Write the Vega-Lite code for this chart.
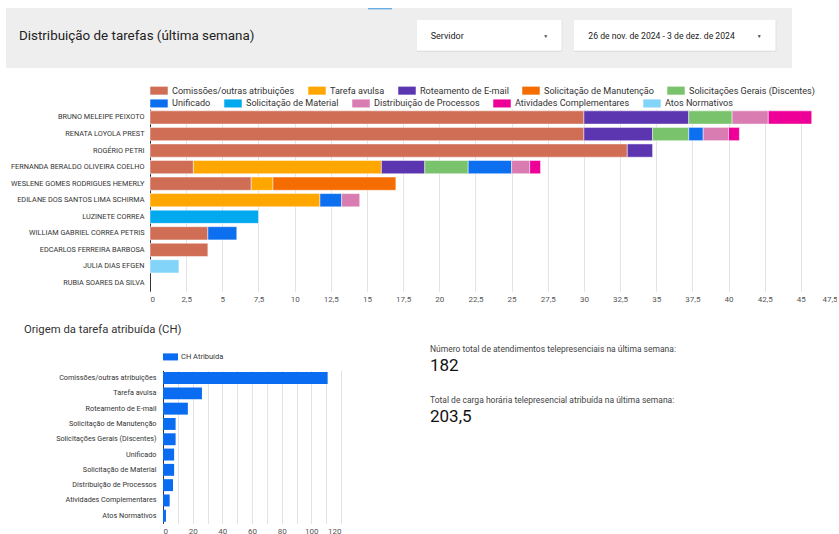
{
  "$schema": "https://vega.github.io/schema/vega-lite/v6.json",
  "padding": {"left": 6, "top": 8, "right": 0, "bottom": 0},
  "background": "#ffffff",
  "config": {
    "font": "Roboto",
    "view": {"stroke": null},
    "axis": {"labelFont": "Roboto", "titleFont": "Roboto"},
    "legend": {"labelFont": "Roboto"},
    "text": {"font": "Roboto"}
  },
  "datasets": {
    "ordem_tipos": [
      {"tipo": "Comissões/outras atribuições", "ordem": 1},
      {"tipo": "Tarefa avulsa", "ordem": 2},
      {"tipo": "Roteamento de E-mail", "ordem": 3},
      {"tipo": "Solicitação de Manutenção", "ordem": 4},
      {"tipo": "Solicitações Gerais (Discentes)", "ordem": 5},
      {"tipo": "Unificado", "ordem": 6},
      {"tipo": "Solicitação de Material", "ordem": 7},
      {"tipo": "Distribuição de Processos", "ordem": 8},
      {"tipo": "Atividades Complementares", "ordem": 9},
      {"tipo": "Atos Normativos", "ordem": 10}
    ]
  },
  "resolve": {"scale": {"color": "independent", "fill": "independent"}, "legend": {"color": "independent", "fill": "independent"}},
  "spacing": 13.2,
  "vconcat": [
    {
      "width": 786,
      "height": 60,
      "view": {"fill": "#eeeeee", "stroke": null},
      "data": {"values": [{"titulo": "Distribuição de tarefas (última semana)", "filtro1": "Servidor", "filtro2": "26 de nov. de 2024 - 3 de dez. de 2024"}]},
      "layer": [
        {
          "mark": {"type": "rect", "color": "#eeeeee"},
          "encoding": {
            "x": {"datum": 0, "type": "quantitative", "scale": {"domain": [0, 786], "nice": false, "zero": false}, "axis": null},
            "x2": {"datum": 786},
            "y": {"datum": 0, "type": "quantitative", "scale": {"domain": [0, 60], "reverse": true, "nice": false, "zero": false}, "axis": null},
            "y2": {"datum": 60}
          }
        },
        {
          "mark": {"type": "rect", "color": "#6aade4"},
          "encoding": {"x": {"datum": 362, "type": "quantitative"}, "x2": {"datum": 386}, "y": {"datum": 0, "type": "quantitative"}, "y2": {"datum": 1.4}}
        },
        {
          "mark": {"type": "rect", "color": "#d2d2d2"},
          "encoding": {"x": {"datum": 410.7, "type": "quantitative"}, "x2": {"datum": 556.2}, "y": {"datum": 12.4, "type": "quantitative"}, "y2": {"datum": 43.6}}
        },
        {
          "mark": {"type": "rect", "color": "#ffffff"},
          "encoding": {"x": {"datum": 410.7, "type": "quantitative"}, "x2": {"datum": 555.7}, "y": {"datum": 12, "type": "quantitative"}, "y2": {"datum": 42.7}}
        },
        {
          "mark": {"type": "rect", "color": "#d2d2d2"},
          "encoding": {"x": {"datum": 568, "type": "quantitative"}, "x2": {"datum": 770.2}, "y": {"datum": 12.4, "type": "quantitative"}, "y2": {"datum": 43.6}}
        },
        {
          "mark": {"type": "rect", "color": "#ffffff"},
          "encoding": {"x": {"datum": 568, "type": "quantitative"}, "x2": {"datum": 769.7}, "y": {"datum": 12, "type": "quantitative"}, "y2": {"datum": 42.7}}
        },
        {
          "mark": {"type": "text", "align": "left", "baseline": "middle", "fontSize": 13.4, "color": "#222222"},
          "encoding": {"x": {"datum": 13, "type": "quantitative"}, "y": {"datum": 28, "type": "quantitative"}, "text": {"field": "titulo"}}
        },
        {
          "mark": {"type": "text", "align": "left", "baseline": "middle", "fontSize": 9, "color": "#222222"},
          "encoding": {"x": {"datum": 424.7, "type": "quantitative"}, "y": {"datum": 27.7, "type": "quantitative"}, "text": {"field": "filtro1"}}
        },
        {
          "mark": {"type": "text", "align": "left", "baseline": "middle", "fontSize": 8.65, "color": "#222222"},
          "encoding": {"x": {"datum": 582.3, "type": "quantitative"}, "y": {"datum": 27.7, "type": "quantitative"}, "text": {"field": "filtro2"}}
        },
        {
          "mark": {"type": "text", "align": "center", "baseline": "middle", "fontSize": 5, "color": "#444444", "text": "▼"},
          "encoding": {"x": {"datum": 539.7, "type": "quantitative"}, "y": {"datum": 27.7, "type": "quantitative"}}
        },
        {
          "mark": {"type": "text", "align": "center", "baseline": "middle", "fontSize": 5, "color": "#444444", "text": "▼"},
          "encoding": {"x": {"datum": 753.3, "type": "quantitative"}, "y": {"datum": 27.7, "type": "quantitative"}}
        }
      ]
    },
    {
      "spacing": 0,
      "resolve": {"scale": {"color": "independent", "fill": "independent"}, "legend": {"color": "independent", "fill": "independent"}},
      "hconcat": [
        {
          "width": 1,
          "height": 200.5,
          "data": {"values": [{}]},
          "mark": {"type": "rect", "fill": "#ffffff", "opacity": 0},
          "encoding": {"x": {"value": 0}, "x2": {"value": "width"}, "y": {"value": 0}, "y2": {"value": "height"}}
        },
        {
          "width": 687,
          "height": 182,
          "data": {"values": [
            {"servidor": "BRUNO MELEIPE PEIXOTO", "tipo": "Comissões/outras atribuições", "horas": 30},
            {"servidor": "BRUNO MELEIPE PEIXOTO", "tipo": "Roteamento de E-mail", "horas": 7.25},
            {"servidor": "BRUNO MELEIPE PEIXOTO", "tipo": "Solicitações Gerais (Discentes)", "horas": 3},
            {"servidor": "BRUNO MELEIPE PEIXOTO", "tipo": "Distribuição de Processos", "horas": 2.5},
            {"servidor": "BRUNO MELEIPE PEIXOTO", "tipo": "Atividades Complementares", "horas": 3},
            {"servidor": "RENATA LOYOLA PREST", "tipo": "Comissões/outras atribuições", "horas": 30},
            {"servidor": "RENATA LOYOLA PREST", "tipo": "Roteamento de E-mail", "horas": 4.75},
            {"servidor": "RENATA LOYOLA PREST", "tipo": "Solicitações Gerais (Discentes)", "horas": 2.5},
            {"servidor": "RENATA LOYOLA PREST", "tipo": "Unificado", "horas": 1},
            {"servidor": "RENATA LOYOLA PREST", "tipo": "Distribuição de Processos", "horas": 1.75},
            {"servidor": "RENATA LOYOLA PREST", "tipo": "Atividades Complementares", "horas": 0.75},
            {"servidor": "ROGÉRIO PETRI", "tipo": "Comissões/outras atribuições", "horas": 33},
            {"servidor": "ROGÉRIO PETRI", "tipo": "Roteamento de E-mail", "horas": 1.75},
            {"servidor": "FERNANDA BERALDO OLIVEIRA COELHO", "tipo": "Comissões/outras atribuições", "horas": 3},
            {"servidor": "FERNANDA BERALDO OLIVEIRA COELHO", "tipo": "Tarefa avulsa", "horas": 13},
            {"servidor": "FERNANDA BERALDO OLIVEIRA COELHO", "tipo": "Roteamento de E-mail", "horas": 3},
            {"servidor": "FERNANDA BERALDO OLIVEIRA COELHO", "tipo": "Solicitações Gerais (Discentes)", "horas": 3},
            {"servidor": "FERNANDA BERALDO OLIVEIRA COELHO", "tipo": "Unificado", "horas": 3},
            {"servidor": "FERNANDA BERALDO OLIVEIRA COELHO", "tipo": "Distribuição de Processos", "horas": 1.25},
            {"servidor": "FERNANDA BERALDO OLIVEIRA COELHO", "tipo": "Atividades Complementares", "horas": 0.75},
            {"servidor": "WESLENE GOMES RODRIGUES HEMERLY", "tipo": "Comissões/outras atribuições", "horas": 7},
            {"servidor": "WESLENE GOMES RODRIGUES HEMERLY", "tipo": "Tarefa avulsa", "horas": 1.5},
            {"servidor": "WESLENE GOMES RODRIGUES HEMERLY", "tipo": "Solicitação de Manutenção", "horas": 8.5},
            {"servidor": "EDILANE DOS SANTOS LIMA SCHIRMA", "tipo": "Tarefa avulsa", "horas": 11.75},
            {"servidor": "EDILANE DOS SANTOS LIMA SCHIRMA", "tipo": "Unificado", "horas": 1.5},
            {"servidor": "EDILANE DOS SANTOS LIMA SCHIRMA", "tipo": "Distribuição de Processos", "horas": 1.25},
            {"servidor": "LUZINETE CORREA", "tipo": "Solicitação de Material", "horas": 7.5},
            {"servidor": "WILLIAM GABRIEL CORREA PETRIS", "tipo": "Comissões/outras atribuições", "horas": 4},
            {"servidor": "WILLIAM GABRIEL CORREA PETRIS", "tipo": "Unificado", "horas": 2},
            {"servidor": "EDCARLOS FERREIRA BARBOSA", "tipo": "Comissões/outras atribuições", "horas": 4},
            {"servidor": "JULIA DIAS EFGEN", "tipo": "Atos Normativos", "horas": 2}
          ]},
          "transform": [
            {"lookup": "tipo", "from": {"data": {"name": "ordem_tipos"}, "key": "tipo", "fields": ["ordem"]}}
          ],
          "encoding": {
            "y": {
              "field": "servidor", "type": "nominal",
              "scale": {
                "domain": ["BRUNO MELEIPE PEIXOTO", "RENATA LOYOLA PREST", "ROGÉRIO PETRI", "FERNANDA BERALDO OLIVEIRA COELHO", "WESLENE GOMES RODRIGUES HEMERLY", "EDILANE DOS SANTOS LIMA SCHIRMA", "LUZINETE CORREA", "WILLIAM GABRIEL CORREA PETRIS", "EDCARLOS FERREIRA BARBOSA", "JULIA DIAS EFGEN", "RUBIA SOARES DA SILVA"],
                "paddingInner": 0.2, "paddingOuter": 0.1
              },
              "axis": {"title": null, "ticks": false, "labelFontSize": 7.3, "labelColor": "#333333", "labelPadding": 6, "domainColor": "#333333", "domainWidth": 1, "minExtent": 143, "maxExtent": 143, "labelLimit": 300}
            },
            "x": {
              "field": "horas", "type": "quantitative", "stack": "zero",
              "scale": {"domain": [0, 47.5], "nice": false},
              "axis": {"title": null, "values": [0, 2.5, 5, 7.5, 10, 12.5, 15, 17.5, 20, 22.5, 25, 27.5, 30, 32.5, 35, 37.5, 40, 42.5, 45, 47.5], "labelExpr": "replace(format(datum.value, '.1~f'), '.', ',')", "domain": false, "ticks": false, "gridColor": "#e3e3e3", "labelFontSize": 8, "labelColor": "#555555", "labelPadding": 4}
            },
            "order": {"field": "ordem", "type": "quantitative", "sort": "ascending"}
          },
          "layer": [
            {
              "mark": {"type": "bar", "stroke": "#ffffff", "strokeWidth": 0.6, "strokeOpacity": 0.8},
              "encoding": {
                "color": {
                  "field": "tipo", "type": "nominal",
                  "scale": {
                    "domain": ["Comissões/outras atribuições", "Tarefa avulsa", "Roteamento de E-mail", "Solicitação de Manutenção", "Solicitações Gerais (Discentes)", "Unificado", "Solicitação de Material", "Distribuição de Processos", "Atividades Complementares", "Atos Normativos"],
                    "range": ["#cf6e55", "#ffa600", "#5c35b1", "#f56c00", "#78c36b", "#0b6ff0", "#02a9ef", "#d97cb1", "#ee0098", "#82d4f9"]
                  },
                  "legend": {"title": null, "orient": "top", "offset": 13.5, "direction": "horizontal", "columns": 5, "values": ["Comissões/outras atribuições", "Tarefa avulsa", "Roteamento de E-mail", "Solicitação de Manutenção", "Solicitações Gerais (Discentes)"], "symbolType": "M-1,-0.46H1V0.46H-1Z", "symbolSize": 306, "symbolStrokeWidth": 0, "symbolOpacity": 1, "labelFontSize": 9.1, "labelColor": "#333333", "columnPadding": 13, "labelOffset": 4}
                }
              }
            },
            {
              "transform": [{"filter": {"field": "tipo", "oneOf": ["Unificado", "Solicitação de Material", "Distribuição de Processos", "Atividades Complementares", "Atos Normativos"]}}],
              "mark": {"type": "bar", "opacity": 0},
              "encoding": {
                "fill": {
                  "field": "tipo", "type": "nominal",
                  "scale": {
                    "domain": ["Unificado", "Solicitação de Material", "Distribuição de Processos", "Atividades Complementares", "Atos Normativos"],
                    "range": ["#0b6ff0", "#02a9ef", "#d97cb1", "#ee0098", "#82d4f9"]
                  },
                  "legend": {"title": null, "orient": "none", "legendX": 0, "legendY": -15.2, "direction": "horizontal", "columns": 5, "symbolType": "M-1,-0.46H1V0.46H-1Z", "symbolSize": 306, "symbolStrokeWidth": 0, "symbolOpacity": 1, "labelFontSize": 9.1, "labelColor": "#333333", "columnPadding": 13, "labelOffset": 4}
                }
              }
            }
          ]
        }
      ]
    },
    {
      "spacing": 0,
      "resolve": {"scale": {"color": "independent"}, "legend": {"color": "independent"}},
      "hconcat": [
        {
          "width": 1,
          "height": 1,
          "data": {"values": [{}]},
          "mark": {"type": "rect", "fill": "#ffffff", "opacity": 0},
          "encoding": {"x": {"value": 0}, "x2": {"value": "width"}, "y": {"value": 0}, "y2": {"value": "height"}}
        },
        {
          "width": 178,
          "height": 153,
          "title": {"text": "Origem da tarefa atribuída (CH)", "anchor": "start", "frame": "bounds", "fontSize": 11.3, "fontWeight": "normal", "color": "#333333", "dx": 17, "offset": 14.5},
          "data": {"values": [
            {"tipo": "Comissões/outras atribuições", "serie": "CH Atribuída", "ch": 111},
            {"tipo": "Tarefa avulsa", "serie": "CH Atribuída", "ch": 26.25},
            {"tipo": "Roteamento de E-mail", "serie": "CH Atribuída", "ch": 16.75},
            {"tipo": "Solicitação de Manutenção", "serie": "CH Atribuída", "ch": 8.5},
            {"tipo": "Solicitações Gerais (Discentes)", "serie": "CH Atribuída", "ch": 8.5},
            {"tipo": "Unificado", "serie": "CH Atribuída", "ch": 7.5},
            {"tipo": "Solicitação de Material", "serie": "CH Atribuída", "ch": 7.5},
            {"tipo": "Distribuição de Processos", "serie": "CH Atribuída", "ch": 6.75},
            {"tipo": "Atividades Complementares", "serie": "CH Atribuída", "ch": 4.5},
            {"tipo": "Atos Normativos", "serie": "CH Atribuída", "ch": 2}
          ]},
          "mark": {"type": "bar"},
          "encoding": {
            "y": {
              "field": "tipo", "type": "nominal",
              "scale": {"domain": ["Comissões/outras atribuições", "Tarefa avulsa", "Roteamento de E-mail", "Solicitação de Manutenção", "Solicitações Gerais (Discentes)", "Unificado", "Solicitação de Material", "Distribuição de Processos", "Atividades Complementares", "Atos Normativos"], "paddingInner": 0.22, "paddingOuter": 0.11},
              "axis": {"title": null, "ticks": false, "labelFontSize": 7.25, "labelColor": "#333333", "labelPadding": 7, "domainColor": "#333333", "minExtent": 156, "maxExtent": 156, "labelLimit": 300}
            },
            "x": {
              "field": "ch", "type": "quantitative",
              "scale": {"domain": [0, 120], "nice": false},
              "axis": {"title": null, "values": [0, 10, 20, 30, 40, 50, 60, 70, 80, 90, 100, 110, 120], "labelExpr": "datum.value % 20 === 0 ? datum.label : ''", "domain": false, "ticks": false, "gridColor": "#e3e3e3", "labelFontSize": 8, "labelColor": "#555555", "labelPadding": 4}
            },
            "color": {
              "field": "serie", "type": "nominal",
              "scale": {"domain": ["CH Atribuída"], "range": ["#0a6cf0"]},
              "legend": {"title": null, "orient": "top", "offset": 9.3, "symbolType": "M-1,-0.47H1V0.47H-1Z", "symbolSize": 225, "symbolStrokeWidth": 0, "symbolOpacity": 1, "labelFontSize": 7.5, "labelColor": "#333333", "labelOffset": 3}
            }
          }
        },
        {
          "width": 300,
          "height": 103.4,
          "data": {"values": [
            {"metrica": "Número total de atendimentos telepresenciais na última semana:", "valor": "182"},
            {"metrica": "Total de carga horária telepresencial atribuída na última semana:", "valor": "203,5"}
          ]},
          "layer": [
            {
              "mark": {"type": "rect", "fill": "#ffffff", "opacity": 0},
              "encoding": {"x": {"value": 0}, "x2": {"value": "width"}, "y": {"value": 0}, "y2": {"value": "height"}}
            },
            {
              "mark": {"type": "text", "align": "left", "baseline": "middle", "fontSize": 8.5, "color": "#444444", "dy": -47.7},
              "encoding": {
                "x": {"value": 89},
                "y": {"field": "metrica", "type": "nominal", "sort": null, "scale": {"paddingInner": 0, "paddingOuter": 0}, "axis": null},
                "text": {"field": "metrica"}
              }
            },
            {
              "mark": {"type": "text", "align": "left", "baseline": "middle", "fontSize": 17, "color": "#111111", "dy": -30.5},
              "encoding": {
                "x": {"value": 89},
                "y": {"field": "metrica", "type": "nominal", "sort": null, "axis": null},
                "text": {"field": "valor"}
              }
            }
          ]
        }
      ]
    }
  ]
}
